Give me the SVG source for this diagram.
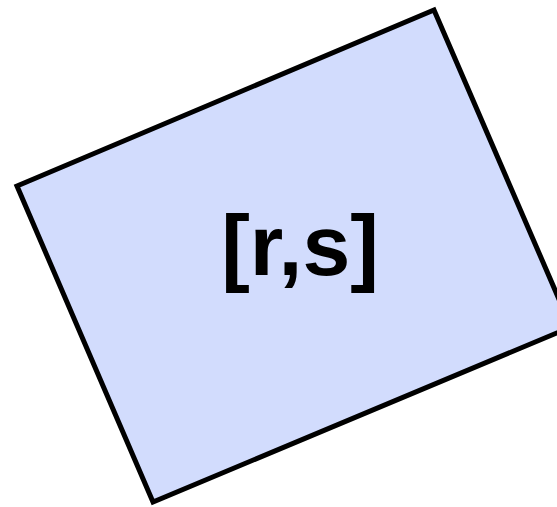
<svg xmlns="http://www.w3.org/2000/svg" width="557" height="507" viewBox="0 0 557 507">
<style>
.box{fill:#d2dcfd;stroke:#000;stroke-width:5;stroke-linejoin:miter}
.lbl{font-family:"Liberation Sans",Arial,sans-serif;font-weight:bold;font-size:86px;fill:#000;text-anchor:middle}
</style>
<rect width="557" height="507" fill="#fff"/>
<g id="node1">
<polygon class="box" points="17,186 434,10 571,327 153,502"/>
<text class="lbl" x="300" y="275">[r,s]</text>
</g>
<g id="connectors"/>
</svg>
